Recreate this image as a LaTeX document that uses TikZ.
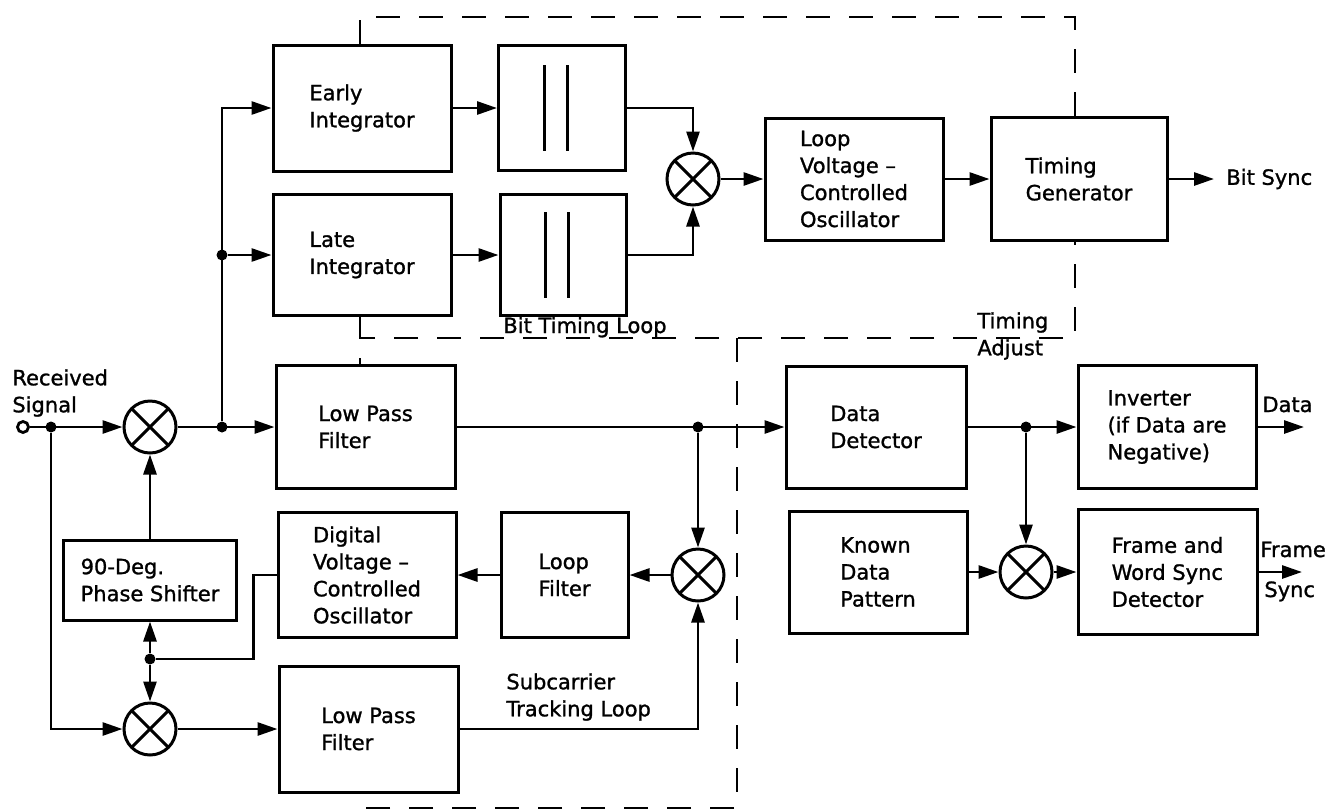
\documentclass[tikz,border=0pt]{standalone}
\usepackage{fontspec}
\setmainfont{DejaVu Sans}[FakeBold=1.2]
\usetikzlibrary{arrows.meta}

\begin{document}
\begin{tikzpicture}[x=0.5pt, y=-0.5pt, >={Triangle[length=10pt,width=6.5pt]},
  font=\fontsize{10.5pt}{13.5pt}\selectfont,
  blk/.style={draw, line width=1.5pt, fill=white, align=left, inner sep=0pt},
  mixer/.style={circle, draw, line width=1.5pt, fill=white, minimum size=26pt, inner sep=0pt,
    path picture={\draw[line width=1.5pt] (path picture bounding box.south west) -- (path picture bounding box.north east)
      (path picture bounding box.north west) -- (path picture bounding box.south east);}},
  jdot/.style={circle, fill, inner sep=0pt, minimum size=5.5pt},
  wire/.style={line width=1.4pt},
  loopline/.style={line width=1.4pt, dash pattern=on 12pt off 9.5pt},
  lbl/.style={inner sep=0pt, align=left}]
\useasboundingbox (0,0) rectangle (1329,810);
% loop boundaries
\draw[loopline] (360,44) -- (360,17) -- (1075,17) -- (1075,338) -- (360,338);
\draw[loopline] (360,315) -- (360,367);
\draw[loopline] (737,338) -- (737,808) -- (367,808) -- (367,791);
% bit timing loop
\node[blk, minimum width=89pt, minimum height=63pt] (early) at (362,108) {Early\\Integrator};
\node[blk, minimum width=89pt, minimum height=60.5pt] (late) at (362,255) {Late\\Integrator};
\node[blk, minimum width=63.5pt, minimum height=62.5pt] (hold1) at (562,108) {};
\node[blk, minimum width=63pt, minimum height=60.5pt] (hold2) at (563,255) {};
\foreach \h in {hold1,hold2}{
  \draw[line width=1.5pt] ([xshift=-9pt,yshift=21.5pt]\h.center) -- ([xshift=-9pt,yshift=-21.5pt]\h.center);
  \draw[line width=1.5pt] ([xshift=2.5pt,yshift=21.5pt]\h.center) -- ([xshift=2.5pt,yshift=-21.5pt]\h.center);
}
\node[mixer] (mixb) at (693,179) {};
\node[blk, minimum width=89pt, minimum height=61pt] (lvco) at (854,179) {Loop\\Voltage --\\Controlled\\Oscillator};
\node[blk, minimum width=88pt, minimum height=61.5pt] (tgen) at (1079,179) {Timing\\Generator};
\node[lbl, anchor=west, inner xsep=6pt] (bitsync) at (1214,179) {Bit Sync};
% input and data path
\node[circle, draw, line width=1.4pt, fill=white, inner sep=0pt, minimum size=5.5pt] (term) at (23,427) {};
\node[jdot] (j0) at (51,427) {};
\node[mixer] (mix1) at (150,427) {};
\node[jdot] (j1) at (222,427) {};
\node[jdot] (j2) at (222,255) {};
\node[blk, minimum width=89.5pt, minimum height=61.5pt] (lpf1) at (365.5,427) {Low Pass\\Filter};
\node[jdot] (jd) at (698,427) {};
\node[blk, minimum width=90pt, minimum height=61pt] (ddet) at (876,427) {Data\\Detector};
\node[jdot] (jo) at (1026,427) {};
\node[blk, minimum width=89pt, minimum height=61.5pt] (inv) at (1167,427) {Inverter\\(if Data are\\Negative)};
\coordinate (dataend) at (1304,427);
% subcarrier loop
\node[blk, minimum width=86.5pt, minimum height=40pt] (phase) at (150,580) {90-Deg.\\Phase Shifter};
\node[blk, minimum width=89pt, minimum height=62.5pt] (dvco) at (367,575) {Digital\\Voltage --\\Controlled\\Oscillator};
\node[blk, minimum width=63.5pt, minimum height=62.5pt] (lfilt) at (564.5,575) {Loop\\Filter};
\node[mixer] (mix2) at (698,575) {};
\node[jdot] (jv) at (150,659) {};
\node[mixer] (mix3) at (150,729) {};
\node[blk, minimum width=89.5pt, minimum height=63pt] (lpf2) at (368.5,729) {Low Pass\\Filter};
% frame sync
\node[blk, minimum width=89pt, minimum height=61pt] (known) at (878,572) {Known\\Data\\Pattern};
\node[mixer] (mix4) at (1026,572) {};
\node[blk, minimum width=89.5pt, minimum height=62.5pt] (frame) at (1167.5,572) {Frame and\\Word Sync\\Detector};
\coordinate (frameend) at (1302,572);
% labels
\node[lbl, anchor=west] (rxlbl) at (12,393) {Received\\Signal};
\node[lbl, anchor=base west] (btlbl) at (503,333) {Bit Timing Loop};
\node[lbl, anchor=west] (talbl) at (977,336) {Timing\\Adjust};
\node[lbl, anchor=west] (sclbl) at (506,697) {Subcarrier\\Tracking Loop};
\node[lbl, anchor=base west] (datalbl) at (1262,412) {Data};
\node[lbl, anchor=base west] (framelbl) at (1260,557) {Frame};
\node[lbl, anchor=base west] (synclbl) at (1264,597) {Sync};
% connections
\draw[wire,->] (j1) |- (early.west);
\draw[wire,->] (j2) -- (late.west);
\draw[wire,->] (early) -- (hold1);
\draw[wire,->] (late) -- (hold2);
\draw[wire,->] (hold1) -| (mixb);
\draw[wire,->] (hold2) -| (mixb);
\draw[wire,->] (mixb) -- (lvco);
\draw[wire,->] (lvco) -- (tgen);
\draw[wire,->] (tgen) -- (bitsync);
\draw[wire,->] (term) -- (mix1);
\draw[wire,->] (mix1) -- (lpf1);
\draw[wire,->] (lpf1) -- (ddet);
\draw[wire,->] (jd) -- (mix2);
\draw[wire,->] (ddet) -- (inv);
\draw[wire,->] (inv) -- (dataend);
\draw[wire,->] (jo) -- (mix4);
\draw[wire,->] (known) -- (mix4);
\draw[wire,->] (mix4) -- (frame);
\draw[wire,->] (frame) -- (frameend);
\draw[wire,->] (phase) -- (mix1);
\draw[wire,->] (mix2) -- (lfilt);
\draw[wire,->] (lfilt) -- (dvco);
\draw[wire] (dvco.west) -- ++(-23,0) |- (jv);
\draw[wire,->] (jv) -- (phase);
\draw[wire,->] (jv) -- (mix3);
\draw[wire,->] (j0) |- (mix3);
\draw[wire,->] (mix3) -- (lpf2);
\draw[wire,->] (lpf2) -| (mix2);
\end{tikzpicture}
\end{document}
